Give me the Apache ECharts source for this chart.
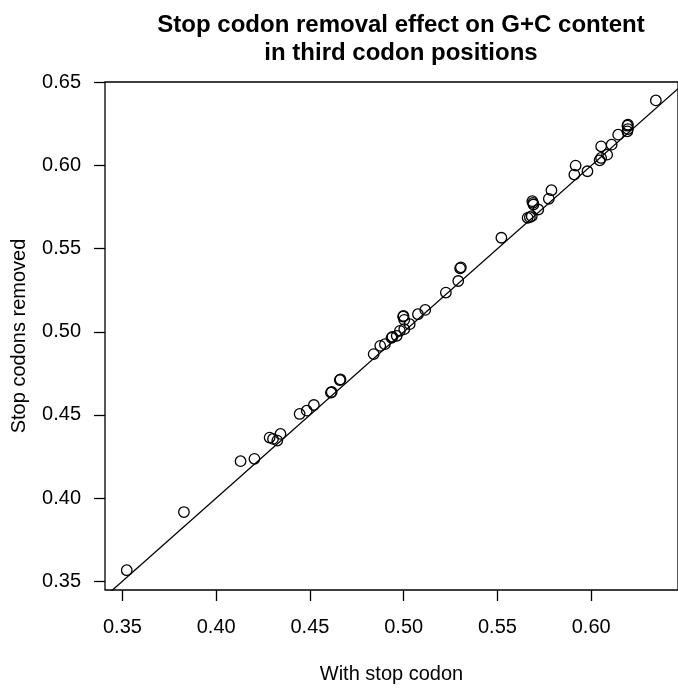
<!DOCTYPE html>
<html>
<head>
<meta charset="utf-8">
<script src="https://cdn.jsdelivr.net/npm/echarts@6/dist/echarts.min.js"></script>
<style>html,body{margin:0;padding:0;background:#fff;}#c{width:678px;height:689px;}</style>
</head>
<body>
<div id="c"></div>
<script>
// G+C content in third codon positions, with stop codon (x) vs stop codons removed (y)
const withStop = [0.3523,0.3828,0.4130,0.4204,0.4285,0.4303,0.4326,0.4343,0.4445,0.4483,0.4521,0.4612,0.4616,0.4659,0.4663,0.4840,0.4875,0.4900,0.4935,0.4940,0.4963,0.4980,0.5003,0.4997,0.4999,0.5003,0.5032,0.5076,0.5115,0.5225,0.5291,0.5301,0.5305,0.5521,0.5661,0.5673,0.5683,0.5686,0.5690,0.5692,0.5718,0.5774,0.5788,0.5910,0.5917,0.5980,0.6045,0.6053,0.6085,0.6053,0.6109,0.6144,0.6193,0.6196,0.6193,0.6196,0.6345];
const stopRemoved = [0.3566,0.3916,0.4222,0.4236,0.4364,0.4356,0.4346,0.4386,0.4506,0.4526,0.4560,0.4634,0.4638,0.4710,0.4714,0.4866,0.4916,0.4926,0.4964,0.4970,0.4976,0.5006,0.5016,0.5092,0.5096,0.5072,0.5046,0.5106,0.5132,0.5236,0.5306,0.5382,0.5388,0.5566,0.5686,0.5690,0.5696,0.5786,0.5776,0.5766,0.5736,0.5800,0.5852,0.5946,0.6000,0.5966,0.6032,0.6046,0.6066,0.6116,0.6126,0.6186,0.6206,0.6220,0.6240,0.6246,0.6392];
const xTicks = [0.35,0.40,0.45,0.50,0.55,0.60];
const yTicks = [0.35,0.40,0.45,0.50,0.55,0.60,0.65];
const xRange = [0.3407,0.6463];
const yRange = [0.3447,0.6503];
// reference line y = intercept + slope * x
const lineIntercept = 0;
const lineSlope = 1;

const points = withStop.map((x,i)=>[x, stopRemoved[i]]);
const refLine = xRange.map(x=>[x, lineIntercept + lineSlope*x]);

const font = 'Liberation Sans, Arial, Helvetica, sans-serif';
const chart = echarts.init(document.getElementById('c'), null, {renderer:'canvas'});
chart.setOption({
  animation:false,
  backgroundColor:'#fff',
  title:{
    text:'Stop codon removal effect on G+C content\nin third codon positions',
    left:396, top:6, textAlign:'center',
    textStyle:{fontFamily:font,fontWeight:'bold',fontSize:24,color:'#000',lineHeight:28}
  },
  grid:{left:105, top:82, width:583, height:509, show:true, borderColor:'#000', borderWidth:1.3, backgroundColor:'transparent'},
  xAxis:{
    type:'value', min:xRange[0], max:xRange[1],
    name:'With stop codon', nameLocation:'middle', nameGap:74,
    nameTextStyle:{fontFamily:font,fontSize:20,color:'#000'},
    axisLine:{show:false},
    axisTick:{show:true, length:11, customValues:xTicks, lineStyle:{color:'#000',width:1.3}},
    axisLabel:{show:true, margin:27, customValues:xTicks, fontFamily:font, fontSize:20, color:'#000', formatter:v=>v.toFixed(2)},
    splitLine:{show:false}
  },
  yAxis:{
    type:'value', min:yRange[0], max:yRange[1],
    name:'Stop codons removed', nameLocation:'middle', nameGap:76, nameRotate:90,
    nameTextStyle:{fontFamily:font,fontSize:20,color:'#000'},
    axisLine:{show:false},
    axisTick:{show:true, length:11, customValues:yTicks, lineStyle:{color:'#000',width:1.3}},
    axisLabel:{show:true, margin:24, customValues:yTicks, fontFamily:font, fontSize:20, color:'#000', formatter:v=>v.toFixed(2)},
    splitLine:{show:false}
  },
  series:[
    {
      type:'line', data:refLine, showSymbol:false, symbol:'none', clip:true,
      lineStyle:{color:'#000', width:1.3}, silent:true, z:1
    },
    {
      type:'scatter', data:points, symbol:'circle', symbolSize:10.5, clip:false,
      itemStyle:{color:'rgba(0,0,0,0)', borderColor:'#000', borderWidth:1.3, opacity:1},
      emphasis:{disabled:true}, silent:true, z:2
    }
  ]
});
</script>
</body>
</html>
